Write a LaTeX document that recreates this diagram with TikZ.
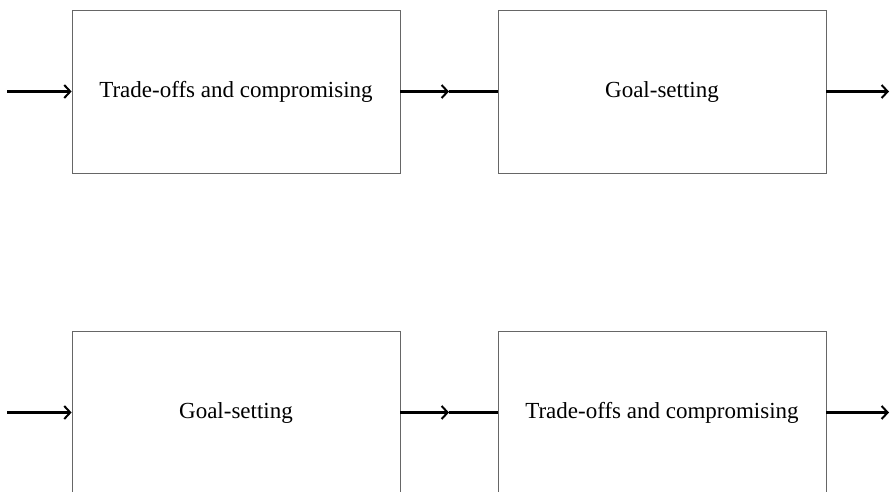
\documentclass[tikz,border=0pt]{standalone}
\usepackage{fontspec}
\setmainfont{Liberation Serif}
\usepackage{tikz}
\usetikzlibrary{arrows.meta, calc}

\begin{document}
\begin{tikzpicture}[x=1pt, y=-1pt,
    etapa/.style={draw=black!60, line width=0.8pt, minimum width=328pt, minimum height=163pt, inner sep=0pt, font=\fontsize{23}{28}\selectfont},
    seta/.style={line width=2.6pt, -{Straight Barb[length=6pt, width=13pt, line width=2pt]}}]
    \useasboundingbox (0,0) rectangle (892,491);
    \clip (0,0) rectangle (892,491);
    % Linha de cima
    \node[etapa] (a1) at (236,91.5) {Trade-offs and compromising};
    \node[etapa] (a2) at (662,91.5) {Goal-setting};
    \coordinate (a0) at (7,91.5);
    \coordinate (a3) at (889,91.5);
    \coordinate (am) at ($(a1.east)!0.5!(a2.west)$);
    \draw[seta] (a0) -- (a1.west);
    \draw[seta] (a1.east) -- (am);
    \draw[line width=2.6pt] (am) -- (a2.west);
    \draw[seta] (a2.east) -- (a3);
    % Linha de baixo
    \node[etapa] (b1) at (236,412.5) {Goal-setting};
    \node[etapa] (b2) at (662,412.5) {Trade-offs and compromising};
    \coordinate (b0) at (7,412.5);
    \coordinate (b3) at (889,412.5);
    \coordinate (bm) at ($(b1.east)!0.5!(b2.west)$);
    \draw[seta] (b0) -- (b1.west);
    \draw[seta] (b1.east) -- (bm);
    \draw[line width=2.6pt] (bm) -- (b2.west);
    \draw[seta] (b2.east) -- (b3);
\end{tikzpicture}
\end{document}
